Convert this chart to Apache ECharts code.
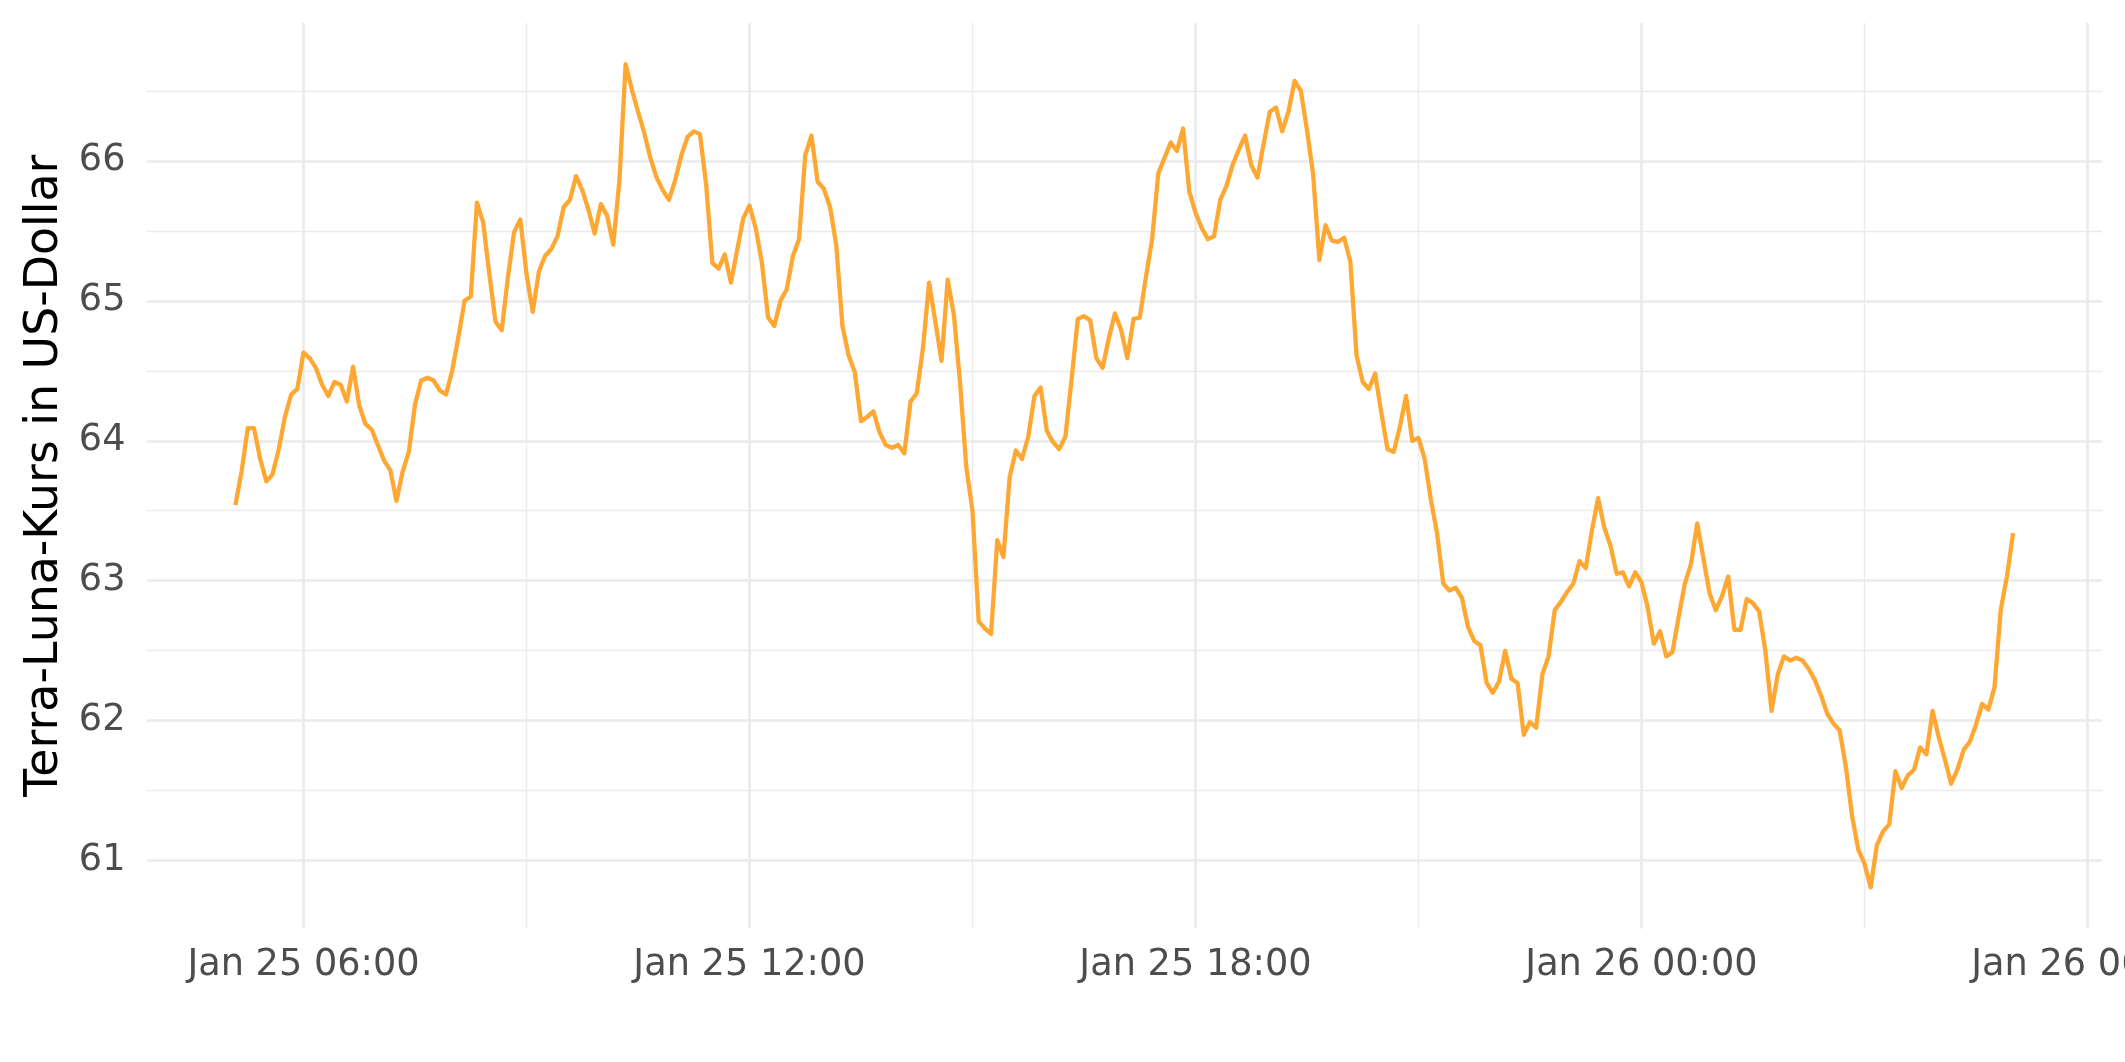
<!DOCTYPE html>
<html>
<head>
<meta charset="utf-8">
<script src="https://cdn.jsdelivr.net/npm/echarts@6/dist/echarts.min.js"></script>
<style>
html,body{margin:0;padding:0;background:#ffffff;}
#chart{width:2125px;height:1062px;}
</style>
</head>
<body>
<div id="chart"></div>
<script>
// ---- Data: Terra-Luna price (USD), 5-minute steps, first point Jan 25 05:05 ----
// time is expressed as hours since Jan 25 00:00
const startHour = 5 + 5 / 60;
const stepMinutes = 5;

const pricesJan25h05 = [63.54, 63.78, 64.09, 64.09, 63.87, 63.71, 63.76, 63.94, 64.17, 64.33, 64.37];
const pricesJan25h06 = [64.63, 64.59, 64.52, 64.40, 64.32, 64.42, 64.40, 64.28, 64.53, 64.25, 64.12, 64.08];
const pricesJan25h07 = [63.97, 63.86, 63.79, 63.57, 63.78, 63.92, 64.26, 64.43, 64.45, 64.43, 64.36, 64.33];
const pricesJan25h08 = [64.50, 64.74, 65.00, 65.03, 65.70, 65.56, 65.19, 64.85, 64.79, 65.17, 65.49, 65.58];
const pricesJan25h09 = [65.19, 64.92, 65.21, 65.32, 65.37, 65.46, 65.67, 65.72, 65.89, 65.79, 65.65, 65.48];
const pricesJan25h10 = [65.69, 65.61, 65.40, 65.86, 66.69, 66.51, 66.35, 66.20, 66.02, 65.88, 65.79, 65.72];
const pricesJan25h11 = [65.86, 66.04, 66.17, 66.21, 66.19, 65.83, 65.27, 65.23, 65.33, 65.13, 65.36, 65.59];
const pricesJan25h12 = [65.68, 65.52, 65.27, 64.88, 64.82, 65.00, 65.08, 65.32, 65.44, 66.04, 66.18, 65.85];
const pricesJan25h13 = [65.80, 65.67, 65.40, 64.82, 64.61, 64.49, 64.14, 64.17, 64.21, 64.06, 63.97, 63.95];
const pricesJan25h14 = [63.97, 63.91, 64.28, 64.34, 64.66, 65.13, 64.85, 64.57, 65.15, 64.90, 64.41, 63.81];
const pricesJan25h15 = [63.50, 62.71, 62.66, 62.62, 63.29, 63.17, 63.74, 63.93, 63.87, 64.03, 64.32, 64.38];
const pricesJan25h16 = [64.07, 63.99, 63.94, 64.03, 64.44, 64.87, 64.89, 64.86, 64.59, 64.52, 64.73, 64.91];
const pricesJan25h17 = [64.79, 64.59, 64.87, 64.88, 65.17, 65.44, 65.91, 66.02, 66.13, 66.07, 66.23, 65.78];
const pricesJan25h18 = [65.63, 65.52, 65.44, 65.46, 65.72, 65.82, 65.97, 66.08, 66.18, 65.97, 65.88, 66.12];
const pricesJan25h19 = [66.35, 66.38, 66.21, 66.35, 66.57, 66.50, 66.22, 65.90, 65.29, 65.54, 65.43, 65.42];
const pricesJan25h20 = [65.45, 65.28, 64.61, 64.42, 64.37, 64.48, 64.20, 63.94, 63.92, 64.10, 64.32, 64.00];
const pricesJan25h21 = [64.02, 63.87, 63.58, 63.34, 62.98, 62.93, 62.95, 62.88, 62.67, 62.57, 62.54, 62.27];
const pricesJan25h22 = [62.20, 62.28, 62.50, 62.30, 62.27, 61.90, 61.99, 61.95, 62.33, 62.46, 62.79, 62.85];
const pricesJan25h23 = [62.92, 62.98, 63.14, 63.09, 63.36, 63.59, 63.38, 63.25, 63.05, 63.06, 62.96, 63.06];
const pricesJan26h00 = [62.99, 62.81, 62.55, 62.64, 62.46, 62.49, 62.74, 62.98, 63.12, 63.41, 63.16, 62.91];
const pricesJan26h01 = [62.79, 62.89, 63.03, 62.65, 62.65, 62.87, 62.84, 62.78, 62.50, 62.07, 62.33, 62.46];
const pricesJan26h02 = [62.43, 62.45, 62.43, 62.37, 62.29, 62.18, 62.05, 61.98, 61.93, 61.67, 61.32, 61.08];
const pricesJan26h03 = [60.98, 60.81, 61.11, 61.21, 61.26, 61.64, 61.52, 61.61, 61.65, 61.81, 61.76, 62.07];
const pricesJan26h04 = [61.88, 61.72, 61.55, 61.65, 61.79, 61.85, 61.97, 62.12, 62.08, 62.24, 62.79, 63.03];
const pricesJan26h05 = [63.34];

// ---- Axis ticks (hours since Jan 25 00:00) ----
const xMajorTicks = [6, 12, 18, 24, 30];
const xTickLabels = ['Jan 25 06:00', 'Jan 25 12:00', 'Jan 25 18:00', 'Jan 26 00:00', 'Jan 26 06:00'];
const xMinorTicks = [9, 15, 21, 27];
const yMajorTicks = [61, 62, 63, 64, 65, 66];
const yMinorTicks = [61.5, 62.5, 63.5, 64.5, 65.5, 66.5];
const yTitle = 'Terra-Luna-Kurs in US-Dollar';

// ---- Build series ----
const allPrices = [].concat(
  pricesJan25h05, pricesJan25h06, pricesJan25h07, pricesJan25h08, pricesJan25h09,
  pricesJan25h10, pricesJan25h11, pricesJan25h12, pricesJan25h13, pricesJan25h14,
  pricesJan25h15, pricesJan25h16, pricesJan25h17, pricesJan25h18, pricesJan25h19,
  pricesJan25h20, pricesJan25h21, pricesJan25h22, pricesJan25h23, pricesJan26h00,
  pricesJan26h01, pricesJan26h02, pricesJan26h03, pricesJan26h04, pricesJan26h05
);
const seriesData = allPrices.map((v, i) => [startHour + i * stepMinutes / 60, v]);

// ggplot-style 5% expansion of data ranges
const tFirst = seriesData[0][0], tLast = seriesData[seriesData.length - 1][0];
const tPad = (tLast - tFirst) * 0.05;
const vMin = Math.min.apply(null, allPrices), vMax = Math.max.apply(null, allPrices);
const vPad = (vMax - vMin) * 0.05;

const GRID = '#EBEBEB';
const LABEL = '#4D4D4D';
const FONT = 'DejaVu Sans';

function xLabel(v) {
  for (let k = 0; k < xMajorTicks.length; k++) {
    if (Math.abs(xMajorTicks[k] - v) < 1e-6) return xTickLabels[k];
  }
  return '';
}

const chart = echarts.init(document.getElementById('chart'), null, {renderer: 'canvas'});
chart.setOption({
  animation: false,
  backgroundColor: '#ffffff',
  grid: {left: 146.5, right: 23, top: 23, bottom: 133.5, containLabel: false, outerBoundsMode: 'none'},
  xAxis: [
    {
      type: 'value', min: tFirst - tPad, max: tLast + tPad, position: 'bottom',
      axisLine: {show: false},
      axisTick: {show: false, customValues: xMajorTicks},
      axisLabel: {
        customValues: xMajorTicks, margin: 18, color: LABEL, fontFamily: FONT, fontSize: 36.7,
        hideOverlap: false, showMinLabel: true, showMaxLabel: true,
        formatter: xLabel
      },
      splitLine: {show: true, lineStyle: {color: GRID, width: 2.7}}
    },
    {
      type: 'value', min: tFirst - tPad, max: tLast + tPad, position: 'bottom',
      axisLine: {show: false},
      axisTick: {show: false, customValues: xMinorTicks},
      axisLabel: {show: false, customValues: xMinorTicks},
      splitLine: {show: true, lineStyle: {color: GRID, width: 1.4}}
    }
  ],
  yAxis: [
    {
      type: 'value', min: vMin - vPad, max: vMax + vPad, position: 'left',
      name: yTitle, nameLocation: 'middle', nameGap: 78,
      nameTextStyle: {color: '#000000', fontFamily: FONT, fontSize: 45.8},
      axisLine: {show: false},
      axisTick: {show: false, customValues: yMajorTicks},
      axisLabel: {customValues: yMajorTicks, margin: 21, color: LABEL, fontFamily: FONT, fontSize: 36.7,
        formatter: function (v) { return String(Math.round(v)); }},
      splitLine: {show: true, lineStyle: {color: GRID, width: 2.7}}
    },
    {
      type: 'value', min: vMin - vPad, max: vMax + vPad, position: 'left',
      axisLine: {show: false},
      axisTick: {show: false, customValues: yMinorTicks},
      axisLabel: {show: false, customValues: yMinorTicks},
      splitLine: {show: true, lineStyle: {color: GRID, width: 1.4}}
    }
  ],
  series: [{
    type: 'line', xAxisIndex: 0, yAxisIndex: 0,
    data: seriesData, showSymbol: false, symbol: 'none',
    lineStyle: {color: '#FFA733', width: 4.3, join: 'round'},
    z: 5
  }]
});
</script>
</body>
</html>
